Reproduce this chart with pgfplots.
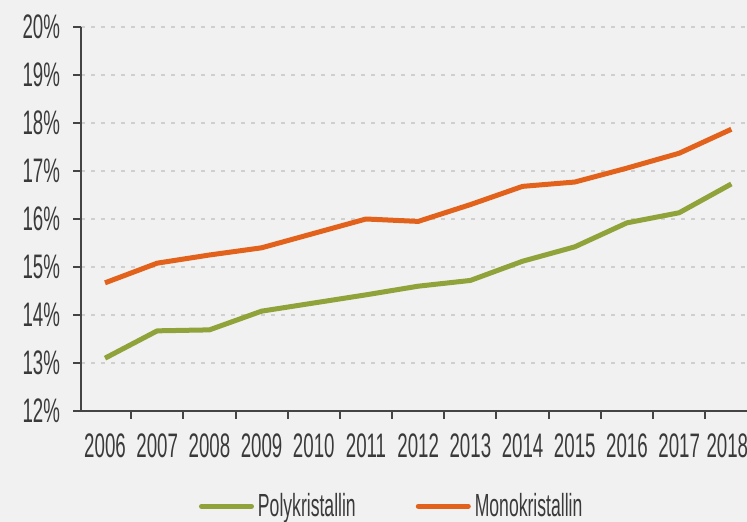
\documentclass[border=0pt]{standalone}
\usepackage{fontspec}
\setmainfont{Liberation Sans}[FakeStretch=0.55]
\usepackage{pgfplots}
\pgfplotsset{compat=1.18}
\definecolor{bgc}{HTML}{F1F1F1}
\definecolor{axc}{HTML}{444444}
\definecolor{txc}{HTML}{3A3A3A}
\definecolor{gridc}{HTML}{CFCFCF}
\definecolor{poly}{HTML}{8FA33A}
\definecolor{mono}{HTML}{E2621B}

\pgfplotstableread{
x poly mono
0  13.10 14.67
1  13.67 15.08
2  13.69 15.25
3  14.08 15.40
4  14.25 15.70
5  14.42 16.00
6  14.60 15.95
7  14.72 16.30
8  15.12 16.68
9  15.42 16.77
10 15.92 17.06
11 16.13 17.37
12 16.73 17.87
}\datatable

\begin{document}
\begin{tikzpicture}
\fill[bgc] (-40.5pt,-55.5pt) rectangle (333pt,205.5pt);
\begin{axis}[
  at={(0pt,0pt)}, anchor=south west,
  scale only axis,
  width=333pt, height=192pt,
  xmin=-0.46, xmax=12.3,
  ymin=12, ymax=20,
  axis x line*=bottom, axis y line*=left,
  axis line style={draw=axc, line width=1pt, -},
  xtick={0,...,12},
  xticklabels={2006,2007,2008,2009,2010,2011,2012,2013,2014,2015,2016,2017,\hspace*{-4pt}2018},
  minor xtick={0.5,1.5,...,11.5},
  ytick={12,...,20},
  yticklabels={12\%,13\%,14\%,15\%,16\%,17\%,18\%,19\%,20\%},
  tick align=outside,
  major x tick style={draw=none},
  every minor tick/.style={draw=axc, line width=1pt, minor tick length=4pt},
  every major tick/.style={draw=axc, line width=1pt},
  major tick length=4pt,
  tick label style={font=\fontsize{17}{19}\selectfont, text=txc},
  xticklabel style={yshift=-4pt},
  yticklabel style={xshift=-3pt},
  ymajorgrids,
  major grid style={draw=gridc, line width=0.6pt, dash pattern=on 2pt off 3pt},
  legend columns=2,
  legend style={at={(0.468,-0.248)}, anchor=center, draw=none, fill=none,
    font=\fontsize{16}{18}\selectfont, text=txc,
    /tikz/every even column/.append style={column sep=28pt}},
  legend image code/.code={\draw[#1, line cap=round] (0pt,0pt) -- (25pt,0pt);},
]
\addplot[poly, line width=2.5pt, line join=round] table[x=x, y=poly] {\datatable};
\addlegendentry{Polykristallin}
\addplot[mono, line width=2.5pt, line join=round] table[x=x, y=mono] {\datatable};
\addlegendentry{Monokristallin}
\end{axis}
\pgfresetboundingbox
\path[use as bounding box] (-40.5pt,-55.5pt) rectangle (333pt,205.5pt);
\end{tikzpicture}
\end{document}
